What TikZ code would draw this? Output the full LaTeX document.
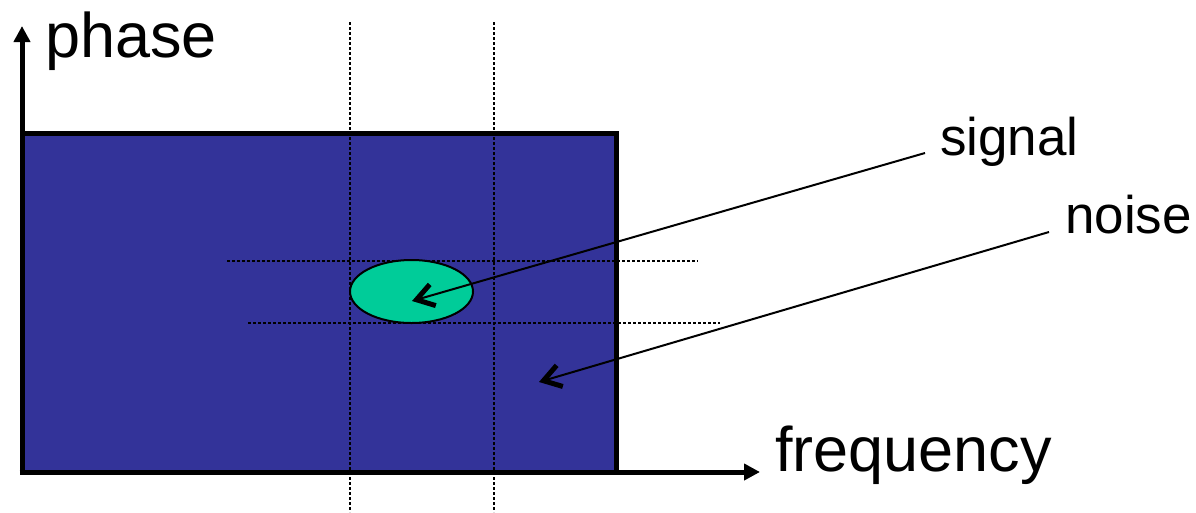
\documentclass[tikz,border=0pt]{standalone}
\usepackage{fontspec}
\setmainfont{Liberation Sans}
\usetikzlibrary{arrows.meta,shapes.geometric}
\definecolor{boxblue}{HTML}{333399}
\definecolor{spot}{HTML}{00CC99}
\tikzset{
  axis/.style={line width=5pt,-{Triangle[length=16pt,width=16pt]}},
  grid line/.style={line width=1.5pt,dash pattern=on 3pt off 2pt},
  pointer/.style={line width=2pt,-{Straight Barb[length=17pt,width=22pt,line width=5pt]}},
  bigtext/.style={font=\fontsize{63}{63}\selectfont,inner sep=0pt,anchor=base west},
  labeltext/.style={font=\fontsize{53}{53}\selectfont,inner sep=0pt,anchor=base west},
}
\begin{document}
\begin{tikzpicture}[x=1pt,y=-1pt]
\useasboundingbox (0,0) rectangle (1196,512);
\fill[boxblue] (22,133) rectangle (616,472);
\draw[grid line] (350,22) -- (350,512);
\draw[grid line] (494,22) -- (494,512);
\draw[grid line] (227,261) -- (698,261);
\draw[grid line] (248,323) -- (720,323);
\node[ellipse,draw,line width=2pt,fill=spot,minimum width=123pt,minimum height=63pt,inner sep=0pt] (blob) at (411.5,291.5) {};
\draw[line width=5pt,line cap=rect] (22,133) -- (616,133) -- (616,472);
\coordinate (origin) at (22,472);
\coordinate (ytip) at (22,26);
\coordinate (xtip) at (760,472);
\draw[axis] (origin) -- (ytip);
\draw[axis] ([xshift=-2.5pt]origin) -- (xtip);
\node[bigtext] (phase) at (45,57) {phase};
\node[bigtext] (freq) at (775,471) {frequency};
\node[labeltext] (signal) at (940,155) {signal};
\node[labeltext] (noise) at (1065,233) {noise};
\coordinate (sigstart) at (925,153);
\coordinate (sigend) at (412,301);
\coordinate (noisestart) at (1049,232);
\coordinate (noiseend) at (539,382);
\draw[pointer] (sigstart) -- (sigend);
\draw[pointer] (noisestart) -- (noiseend);
\end{tikzpicture}
\end{document}
